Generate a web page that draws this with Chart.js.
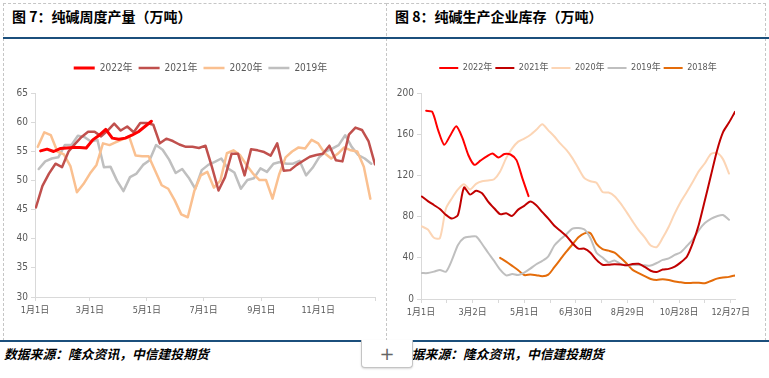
<!DOCTYPE html>
<html>
<head>
<meta charset="utf-8">
<script src="https://cdn.jsdelivr.net/npm/chart.js@4.4.0/dist/chart.umd.min.js"></script>
<style>
  body { margin: 0; width: 769px; height: 378px; background: #fff; position: relative; overflow: hidden; font-family: "Noto Sans CJK SC", sans-serif; }
  .frame { position: absolute; border: 1px dashed #c6c6c6; box-sizing: border-box; }
  .title { position: absolute; top: 8px; font-size: 14px; font-weight: bold; color: #000; line-height: 16px; white-space: nowrap; }
  .rule { position: absolute; height: 2px; background: #1b4f7c; }
  .src { position: absolute; top: 346px; font-size: 12.8px; font-weight: bold; font-style: italic; color: #000; line-height: 16px; white-space: nowrap; }
  .plus { position: absolute; left: 361px; top: 340px; width: 50px; height: 27px; background: #fff; border: 1px solid #c4c4c4; border-top: none; border-radius: 0 0 4px 4px; box-shadow: 0 1px 2px rgba(0,0,0,0.15); text-align: center; line-height: 27px; font-size: 18px; color: #666; font-family: "DejaVu Sans", sans-serif; }
  canvas { position: absolute; }
</style>
</head>
<body>
<div class="frame" style="left:3px;top:3px;width:384px;height:338px"></div>
<div class="frame" style="left:386px;top:3px;width:380px;height:338px"></div>
<div class="title" style="left:12px">图 7：纯碱周度产量（万吨）</div>
<div class="title" style="left:395px">图 8：纯碱生产企业库存（万吨）</div>
<div class="rule" style="left:3px;width:766px;top:37px"></div>
<div class="rule" style="left:0;width:769px;top:340px"></div>
<div class="src" style="left:4px">数据来源：隆众资讯，中信建投期货</div>
<div class="src" style="left:399px">数据来源：隆众资讯，中信建投期货</div>
<canvas id="weekly" width="385" height="290" style="left:0;top:45px"></canvas>
<canvas id="stock" width="384" height="290" style="left:385px;top:45px"></canvas>
<div class="plus">+</div>

<script>
// ---- 图7 纯碱周度产量（万吨），周度数据，x 为年内天数
const prodYears = ['2022年', '2021年', '2020年', '2019年']
const prodStartDay = [6, 1, 3, 4]
const prod2022 = [55.1, 55.4, 55.0, 55.5, 55.6, 55.7, 55.7, 55.6, 57.0, 57.8, 58.8, 57.3, 57.1, 57.3, 57.8, 58.4, 59.3, 60.2]
const prod2021 = [45.4, 49.1, 51.2, 52.9, 52.3, 55.0, 56.3, 57.5, 58.4, 58.4, 57.6, 58.6, 59.8, 58.6, 59.3, 58.3, 59.9, 59.9, 59.6, 56.4,
  57.2, 56.8, 56.2, 55.8, 55.8, 55.6, 56.0, 52.3, 48.3, 50.6, 54.6, 54.6, 50.9, 55.4, 55.2, 54.9, 54.3, 56.4, 51.7, 51.8,
  52.7, 53.4, 54.1, 54.4, 54.6, 56.0, 53.5, 53.3, 57.9, 59.1, 58.7, 56.8, 52.8]
const prod2020 = [55.8, 58.3, 57.8, 55.0, 54.5, 52.5, 48.0, 49.4, 51.2, 52.7, 56.4, 56.1, 56.6, 57.1, 57.6, 54.3, 54.2, 54.2, 51.7, 49.2,
  48.6, 46.6, 44.2, 43.7, 48.2, 50.9, 51.5, 48.8, 50.0, 54.7, 55.2, 54.4, 52.7, 51.2, 50.1, 50.1, 46.9, 51.0, 54.0, 55.0,
  55.7, 55.5, 57.0, 56.4, 54.7, 53.8, 54.6, 55.7, 55.2, 55.0, 52.4, 46.9]
const prod2019 = [52.0, 53.3, 53.8, 54.0, 56.1, 56.1, 57.7, 57.5, 56.7, 57.0, 52.3, 52.4, 50.0, 48.2, 50.6, 51.2, 52.7, 53.5, 56.1, 55.3,
  53.6, 51.3, 52.0, 50.5, 48.6, 51.8, 52.7, 53.2, 53.8, 52.1, 51.4, 48.6, 50.1, 50.4, 52.1, 51.5, 52.9, 53.2, 52.9, 52.9,
  53.4, 50.9, 52.2, 54.0, 55.0, 55.5, 56.1, 57.8, 55.8, 54.4, 53.8, 52.9]
const prodTickDays = [0, 59, 120, 181, 243, 304, 365]
const prodTickLabels = ['1月1日', '3月1日', '5月1日', '7月1日', '9月1日', '11月1日', '']

// ---- 图8 纯碱生产企业库存（万吨）
const stockYears = ['2022年', '2021年', '2020年', '2019年', '2018年']
const stockStartDay = [6, 1, 1, 1, 92]
const stock2022 = [183, 182, 164, 150, 159, 168, 157, 140, 130.5, 134.5, 138.5, 141.5, 137.5, 141, 140.5, 135, 117, 100]
const stock2021 = [99.7, 95.2, 91.4, 87.5, 81.8, 78.2, 81.9, 108.4, 101.5, 105.2, 102.8, 94.7, 88.3, 82.5, 83.4, 80.8, 86.9, 90.6, 94.7, 91.2,
  84.5, 78.2, 71.2, 66.3, 61.2, 54.2, 48.9, 48.9, 45, 38, 33.3, 33.3, 33.9, 33.5, 32.7, 34, 34.2, 31.3, 27.5, 26.3,
  28.6, 29.3, 31.5, 35.6, 41, 54.5, 72.5, 96, 120, 144, 162, 171.5, 182]
const stock2020 = [70.6, 67.5, 59.5, 59.2, 88, 98, 106.5, 111.5, 106.5, 112, 114.5, 115.2, 116.5, 124, 137, 146.5, 153, 156, 159.5, 164.5,
  170, 164, 158, 151, 145, 137, 127, 117.5, 114.5, 113, 104, 103.5, 100, 93, 84.5, 75.5, 67, 60, 52, 50.5,
  59.5, 70.2, 83.2, 94.5, 104, 114, 124.3, 132, 141, 142, 136, 122]
const stock2019 = [25.2, 25.2, 26.6, 28.3, 26.5, 38, 52.5, 59.5, 60.6, 60.8, 53.5, 45, 37, 28.5, 23, 24.2, 23.3, 25.6, 29.5, 33.8,
  37, 41.5, 52, 58, 63, 68.5, 69, 67.5, 59, 45, 40.3, 35.6, 37.5, 34, 32.7, 33, 33, 32.7, 32.5, 35,
  38, 39.5, 42.8, 45.5, 51.5, 58, 67, 73.8, 78, 80.5, 81.7, 77]
const stock2018 = [40, 36.3, 32.2, 28, 23.3, 23.8, 23.2, 22.2, 23.7, 31, 38.5, 46, 53, 60, 63.8, 64, 53.5, 48.5, 47, 45,
  40, 34.5, 28.3, 25.2, 22.3, 19.5, 18.5, 19.3, 18.5, 17, 16.2, 15.5, 15.7, 15.8, 15.3, 17.5, 19.8, 21, 21.5, 23]
const stockTickDays = [0, 30, 60, 90, 120, 150, 180, 210, 240, 270, 300, 330, 360]
const stockTickLabels = ['1月1日', '', '3月2日', '', '5月1日', '', '6月30日', '', '8月29日', '', '10月28日', '', '12月27日']

const axisColor = '#d9d9d9'
const labelColor = '#595959'
const fontFamily = '"Liberation Sans Narrow", "DejaVu Sans Condensed", "Noto Sans CJK SC", sans-serif'

// weekly points: day of year for each value
const weekly = (vals, start) => vals.map((v, i) => ({ x: start + 7 * i, y: v }))

// legend height fixed so the plot top lands where the original one does
const legendHeight = {
  id: 'legendHeight',
  beforeInit(chart, args, opts) {
    const fit = chart.legend.fit
    chart.legend.fit = function () {
      fit.call(this)
      this.height = opts.h
    }
  }
}

function makeChart(id, cfg) {
  const scales = {
    x: {
      type: 'linear',
      min: 0,
      max: 365,
      afterBuildTicks: s => { s.ticks = cfg.tickDays.map(v => ({ value: v })) },
      afterFit: s => { s.height = 22; s.paddingLeft = 0; s.paddingRight = 0 },
      ticks: {
        autoSkip: false,
        maxRotation: 0,
        padding: 4,
        color: labelColor,
        font: { family: fontFamily, size: 9 },
        callback: (v, i) => cfg.tickLabels[i]
      },
      grid: { drawOnChartArea: false, tickLength: 4, color: axisColor },
      border: { color: axisColor }
    },
    y: {
      min: cfg.yMin,
      max: cfg.yMax,
      afterFit: s => { s.width = cfg.yWidth; s.paddingTop = 0; s.paddingBottom = 0 },
      ticks: { stepSize: cfg.yStep, padding: 3, color: labelColor, font: { family: fontFamily, size: 10 } },
      grid: { drawOnChartArea: false, tickLength: 4, color: axisColor },
      border: { color: axisColor }
    }
  }
  if (cfg.rightGap) {
    // empty right-hand box, keeps the plot narrower than the legend row
    scales.yGap = {
      position: 'right',
      afterFit: s => { s.width = cfg.rightGap },
      ticks: { display: false },
      grid: { display: false },
      border: { display: false }
    }
  }
  return new Chart(document.getElementById(id), {
    type: 'line',
    data: { datasets: cfg.datasets },
    plugins: [legendHeight],
    options: {
      responsive: false,
      animation: false,
      layout: { padding: cfg.padding },
      elements: { point: { radius: 0 }, line: { tension: cfg.tension, borderCapStyle: 'round', borderJoinStyle: 'round' } },
      plugins: {
        tooltip: { enabled: false },
        legendHeight: { h: cfg.legendH },
        legend: {
          fullSize: cfg.legendFull,
          labels: {
            usePointStyle: true,
            pointStyle: 'line',
            pointStyleWidth: cfg.swatch,
            padding: cfg.legendPad,
            color: labelColor,
            font: { family: fontFamily, size: cfg.legendFont }
          }
        }
      },
      scales
    }
  })
}

const prodColors = ['#ff0000', '#c0504d', '#fac090', '#bfbfbf']
const prodSeries = [prod2022, prod2021, prod2020, prod2019]
makeChart('weekly', {
  datasets: prodSeries.map((s, k) => ({
    label: prodYears[k],
    data: weekly(s, prodStartDay[k]),
    borderColor: prodColors[k],
    backgroundColor: prodColors[k],
    borderWidth: k === 0 ? 3 : 2.5
  })),
  padding: { left: 16, right: 0, top: 12, bottom: 16 },
  legendH: 36.3,
  legendPad: 6,
  legendFont: 10,
  legendFull: true,
  swatch: 21,
  tension: 0,
  tickDays: prodTickDays,
  tickLabels: prodTickLabels,
  yMin: 30, yMax: 65, yStep: 5, yWidth: 19,
  rightGap: 10
})

const stockColors = ['#ff0000', '#c00000', '#fcd5b5', '#bfbfbf', '#e46c0a']
const stockSeries = [stock2022, stock2021, stock2020, stock2019, stock2018]
makeChart('stock', {
  datasets: stockSeries.map((s, k) => ({
    label: stockYears[k],
    data: weekly(s, stockStartDay[k]),
    borderColor: stockColors[k],
    backgroundColor: stockColors[k],
    borderWidth: 2
  })),
  padding: { left: 0, right: 34, top: 15.5, bottom: 14 },
  legendH: 32.8,
  legendPad: 3,
  legendFont: 9,
  legendFull: false,
  swatch: 19,
  tension: 0.25,
  tickDays: stockTickDays,
  tickLabels: stockTickLabels,
  yMin: 0, yMax: 200, yStep: 40, yWidth: 36
})
</script>
</body>
</html>
